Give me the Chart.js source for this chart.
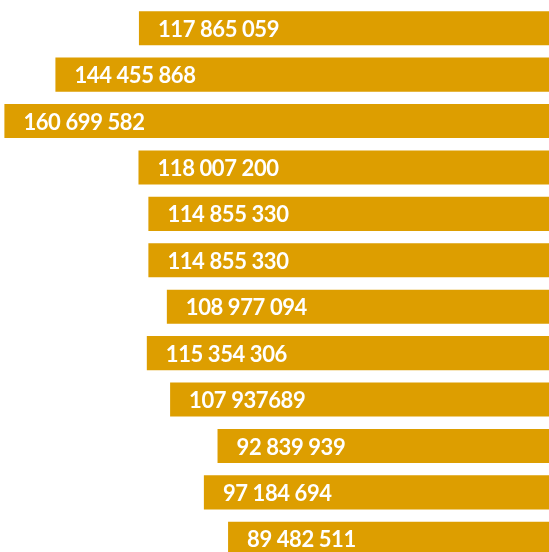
<!DOCTYPE html>
<html>
<head>
<meta charset="utf-8">
<script src="https://cdn.jsdelivr.net/npm/chart.js@4"></script>
<style>
  html, body { margin: 0; padding: 0; background: #fff; overflow: hidden; }
  canvas { display: block; }
</style>
</head>
<body>
<canvas id="bars" width="549" height="562"></canvas>
<script>
  // one row per bar, top to bottom
  const rows = ['1', '2', '3', '4', '5', '6', '7', '8', '9', '10', '11', '12'];
  const values = [117865059, 144455868, 160699582, 118007200, 114855330, 114855330,
                  108977094, 115354306, 107937689, 92839939, 97184694, 89482511];
  // text shown on each bar, as written in the picture
  const valueLabels = ['117 865 059', '144 455 868', '160 699 582', '118 007 200', '114 855 330', '114 855 330',
                       '108 977 094', '115 354 306', '107 937689', '92 839 939', '97 184 694', '89 482 511'];

  const barColor = '#dd9e00';
  const axisMin = -12.7e6;
  const axisMax = 162.1e6;

  // white value text near the left end of each bar
  const valueText = {
    id: 'valueText',
    afterDatasetsDraw(chart) {
      const ctx = chart.ctx;
      const meta = chart.getDatasetMeta(0);
      ctx.save();
      ctx.fillStyle = '#ffffff';
      ctx.font = 'bold 22px Lato, "DejaVu Sans", sans-serif';
      ctx.letterSpacing = '-0.4px';
      ctx.textAlign = 'left';
      ctx.textBaseline = 'middle';
      meta.data.forEach((bar, i) => {
        ctx.fillText(valueLabels[i], bar.x + 19, bar.y + 1.5);
      });
      ctx.restore();
    }
  };

  const ctx = document.getElementById('bars').getContext('2d');
  new Chart(ctx, {
    type: 'bar',
    data: {
      labels: rows,
      datasets: [{
        data: values,
        base: axisMin,
        backgroundColor: barColor,
        borderWidth: 0,
        categoryPercentage: 1,
        barPercentage: 0.733
      }]
    },
    options: {
      indexAxis: 'y',
      responsive: false,
      animation: false,
      layout: { padding: { top: 5, bottom: 0, left: 0, right: 0 } },
      plugins: { legend: { display: false }, tooltip: { enabled: false } },
      scales: {
        x: { display: false, reverse: true, min: axisMin, max: axisMax },
        y: { display: false }
      }
    },
    plugins: [valueText]
  });
</script>
</body>
</html>
